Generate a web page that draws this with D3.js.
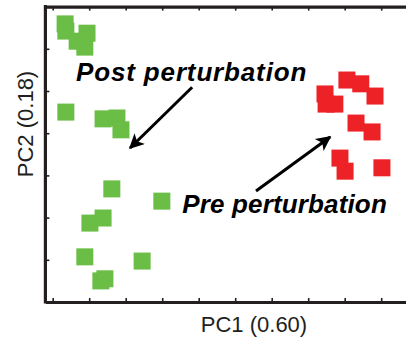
<!DOCTYPE html>
<html>
<head>
<meta charset="utf-8">
<script src="https://cdn.jsdelivr.net/npm/d3@7"></script>
<style>
  body { margin: 0; background: #fff; }
  svg { display: block; }
  text { font-family: "Liberation Sans", Arial, Helvetica, sans-serif; }
</style>
</head>
<body>
<script>
// PC scores (arbitrary units, one tick = 1)
var postPC1 = [0.34, 0.36, 0.94, 0.67, 0.88, 0.36, 1.38, 1.76, 1.87, 1.62, 2.99, 1.02, 1.38, 0.88, 2.45, 1.32, 1.43];
var postPC2 = [6.59, 6.42, 6.37, 6.18, 6.04, 4.50, 4.34, 4.36, 4.08, 2.68, 2.39, 1.87, 1.99, 1.07, 0.97, 0.50, 0.55];
var prePC1 = [8.06, 8.44, 8.83, 7.46, 7.49, 7.73, 8.31, 8.75, 7.87, 8.01, 9.02];
var prePC2 = [5.26, 5.17, 4.88, 4.93, 4.69, 4.69, 4.24, 4.03, 3.41, 3.10, 3.18];
var xTicks = [0, 1, 2, 3, 4, 5, 6, 7, 8, 9];
var yTicks = [1, 2, 3, 4, 5, 6];
var xLabel = "PC1 (0.60)";
var yLabel = "PC2 (0.18)";
// annotation labels and arrows: [label x, label y], arrow [tail x, tail y, tip x, tip y]
var notes = [
  { text: "Post perturbation", at: [0.64, 5.24], arrow: [3.82, 5.09, 2.12, 3.65] },
  { text: "Pre perturbation", at: [3.55, 2.11], arrow: [5.57, 2.63, 7.60, 3.91] }
];

var W = 406, H = 338;
var x = d3.scaleLinear().domain([-0.2, 9.8]).range([45.4, 410.4]);
var y = d3.scaleLinear().domain([0, 7]).range([302, 6.6]);

var svg = d3.select("body").append("svg").attr("width", W).attr("height", H);

var ink = "#231f20";
var sq = 17;
var noteSpacing = [0.85, 0.15];

// arrow head
svg.append("defs").append("marker")
  .attr("id", "head")
  .attr("viewBox", "0 0 10 10")
  .attr("refX", 9).attr("refY", 5)
  .attr("markerWidth", 5.5).attr("markerHeight", 5)
  .attr("markerUnits", "strokeWidth")
  .attr("orient", "auto")
  .append("path").attr("d", "M0,0 L10,5 L0,10 L2.5,5 Z").attr("fill", "#000");

// points
var post = postPC1.map(function (v, i) { return [v, postPC2[i]]; });
var pre = prePC1.map(function (v, i) { return [v, prePC2[i]]; });

svg.append("g").selectAll("rect").data(post).enter().append("rect")
  .attr("x", function (d) { return x(d[0]) - sq / 2; })
  .attr("y", function (d) { return y(d[1]) - sq / 2; })
  .attr("width", sq).attr("height", sq)
  .attr("fill", "#6abd45");

svg.append("g").selectAll("rect").data(pre).enter().append("rect")
  .attr("x", function (d) { return x(d[0]) - sq / 2; })
  .attr("y", function (d) { return y(d[1]) - sq / 2; })
  .attr("width", sq).attr("height", sq)
  .attr("fill", "#ed2227");

// axes: bottom, top, left, ticks pointing inside
var gBottom = svg.append("g").attr("transform", "translate(0," + y(0) + ")")
  .call(d3.axisBottom(x).tickValues(xTicks).tickSize(-4).tickSizeOuter(0).tickFormat(""));
var gTop = svg.append("g").attr("transform", "translate(0," + y(7) + ")")
  .call(d3.axisTop(x).tickValues(xTicks).tickSize(-4).tickSizeOuter(0).tickFormat(""));
var gLeft = svg.append("g").attr("transform", "translate(" + x(-0.2) + ",0)")
  .call(d3.axisLeft(y).tickValues(yTicks).tickSize(-4).tickSizeOuter(0).tickFormat(""));

[gBottom, gTop, gLeft].forEach(function (g) {
  g.select(".domain").attr("stroke", ink).attr("stroke-width", 3.2);
  g.selectAll(".tick line").attr("stroke", ink).attr("stroke-width", 1.6);
});
gLeft.select(".domain").attr("d", "M0," + (y(0) + 1.6) + "V" + (y(7) - 1.6));

// axis titles
svg.append("text")
  .attr("x", 254).attr("y", 332)
  .attr("text-anchor", "middle")
  .attr("font-size", 22)
  .attr("fill", ink)
  .text(xLabel);

svg.append("text")
  .attr("transform", "rotate(-90)")
  .attr("x", -124).attr("y", 33)
  .attr("text-anchor", "middle")
  .attr("font-size", 22)
  .attr("fill", ink)
  .text(yLabel);

// annotations
notes.forEach(function (n, i) {
  svg.append("line")
    .attr("x1", x(n.arrow[0])).attr("y1", y(n.arrow[1]))
    .attr("x2", x(n.arrow[2])).attr("y2", y(n.arrow[3]))
    .attr("stroke", "#000").attr("stroke-width", 3)
    .attr("marker-end", "url(#head)");
  svg.append("text")
    .attr("x", x(n.at[0])).attr("y", y(n.at[1]))
    .attr("font-size", 26)
    .attr("font-weight", "bold")
    .attr("font-style", "italic")
    .attr("letter-spacing", noteSpacing[i])
    .attr("fill", "#000")
    .text(n.text);
});
</script>
</body>
</html>
